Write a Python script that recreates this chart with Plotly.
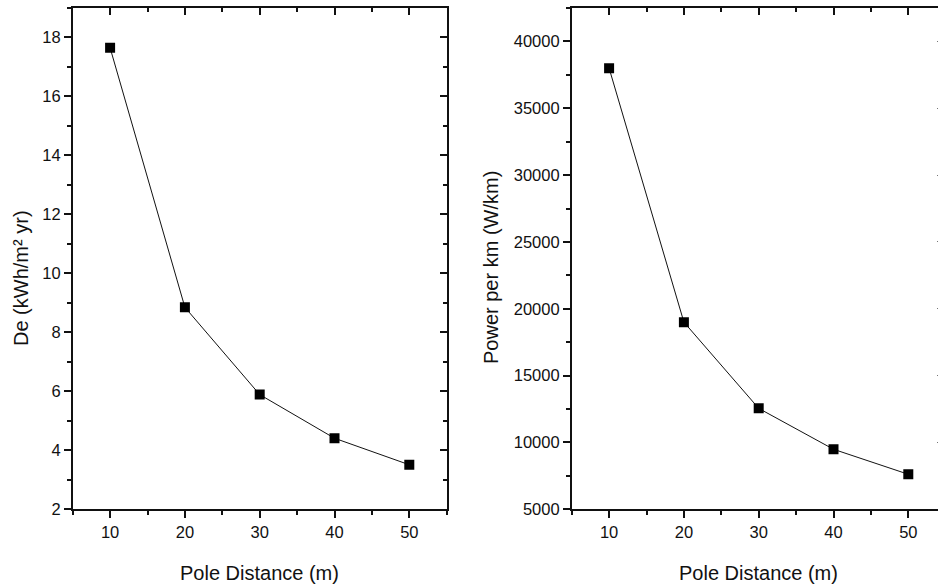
import plotly.graph_objects as go

pole_distance = [10, 20, 30, 40, 50]
de_values = [17.65, 8.85, 5.89, 4.41, 3.51]
power_values = [38000, 19000, 12550, 9490, 7620]

W, H = 938, 588
FONT = "Liberation Sans, Arial, sans-serif"
INK = "#111111"

# plot areas (pixel positions)
L1, R1 = 72.7, 446.7
L2 = 571.7
TOP, BOT = 8.0, 509.3
px_per_unit = (R1 - L1) / 50.0
x2_max = 5 + (W - L2) / px_per_unit

dom_y = [1 - BOT / H, 1 - TOP / H]

fig = go.Figure()

line_style = dict(color=INK, width=1)
marker_style = dict(symbol="square", size=10, color="black")

fig.add_trace(go.Scatter(x=pole_distance, y=de_values, mode="lines+markers",
                         line=line_style, marker=marker_style,
                         xaxis="x", yaxis="y", showlegend=False))
fig.add_trace(go.Scatter(x=pole_distance, y=power_values, mode="lines+markers",
                         line=line_style, marker=marker_style,
                         xaxis="x2", yaxis="y2", showlegend=False))
# helper invisible traces so mirror axes are drawn
for xa, ya in [("x3", "y"), ("x", "y3"), ("x4", "y2"), ("x2", "y4")]:
    fig.add_trace(go.Scatter(x=pole_distance, y=de_values if ya in ("y", "y3") else power_values,
                             mode="lines", line=dict(width=0), opacity=0,
                             xaxis=xa, yaxis=ya, showlegend=False, hoverinfo="skip"))

tickfont = dict(family=FONT, size=16.5, color=INK)
common = dict(showline=True, linecolor=INK, linewidth=1.5, showgrid=False,
              zeroline=False, tickcolor=INK, tickwidth=1.5, ticklen=7,
              tickfont=tickfont, automargin=False, tickformat="d")

xcommon = dict(common, tick0=10, dtick=10,
               minor=dict(dtick=5, tick0=5, ticklen=4, tickcolor=INK, tickwidth=1.5, showgrid=False))

fig.update_layout(
    width=W, height=H,
    margin=dict(l=0, r=0, t=0, b=0, autoexpand=False),
    paper_bgcolor="white", plot_bgcolor="white",
    xaxis=dict(xcommon, domain=[L1 / W, R1 / W], range=[5, 55], anchor="y",
               ticks="outside", minor_ticks="outside"),
    yaxis=dict(common, domain=dom_y, range=[2, 19], anchor="x", tick0=2, dtick=2,
               ticks="outside",
               minor=dict(dtick=1, tick0=1, ticklen=4, ticks="outside", tickcolor=INK, tickwidth=1.5)),
    xaxis3=dict(xcommon, overlaying="x", side="top", anchor="y", range=[5, 55],
                ticks="inside", minor_ticks="inside", showticklabels=False),
    yaxis3=dict(common, overlaying="y", side="right", anchor="x", range=[2, 19],
                tick0=2, dtick=2, ticks="inside", showticklabels=False,
                minor=dict(dtick=1, tick0=1, ticklen=4, ticks="inside", tickcolor=INK, tickwidth=1.5)),
    xaxis2=dict(xcommon, domain=[L2 / W, 1.0], range=[5, x2_max], anchor="y2",
                ticks="outside", minor_ticks="outside"),
    yaxis2=dict(common, domain=dom_y, range=[5000, 42500], anchor="x2", tick0=5000, dtick=5000,
                ticks="outside",
                minor=dict(dtick=2500, tick0=2500, ticklen=4, ticks="outside", tickcolor=INK, tickwidth=1.5)),
    xaxis4=dict(xcommon, overlaying="x2", side="top", anchor="y2", range=[5, x2_max],
                ticks="inside", minor_ticks="inside", showticklabels=False),
    yaxis4=dict(overlaying="y2", side="right", anchor="x2", range=[5000, 42500],
                tick0=5000, dtick=5000, ticks="inside", ticklen=1, tickcolor="#777777",
                tickwidth=1, showline=False, showgrid=False, zeroline=False,
                showticklabels=False, automargin=False),
)

title_font = dict(family=FONT, size=20, color=INK)
fig.add_annotation(text="Pole Distance (m)", x=(L1 + R1) / 2 / W, y=1 - 573 / H,
                   xref="paper", yref="paper", showarrow=False, font=title_font,
                   xanchor="center", yanchor="middle")
fig.add_annotation(text="Pole Distance (m)", x=758.8 / W, y=1 - 573 / H,
                   xref="paper", yref="paper", showarrow=False, font=title_font,
                   xanchor="center", yanchor="middle")
fig.add_annotation(text="De (kWh/m² yr)", x=21 / W, y=1 - 278 / H,
                   xref="paper", yref="paper", showarrow=False, font=title_font,
                   textangle=-90, xanchor="center", yanchor="middle")
fig.add_annotation(text="Power per km (W/km)", x=491 / W, y=1 - 268 / H,
                   xref="paper", yref="paper", showarrow=False, font=title_font,
                   textangle=-90, xanchor="center", yanchor="middle")

fig.write_html("out.html")
